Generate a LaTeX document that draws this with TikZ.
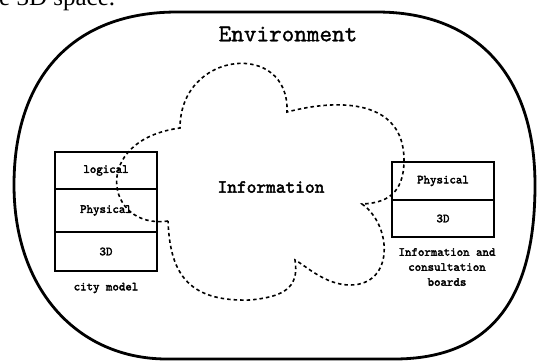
\documentclass[tikz,border=0pt]{standalone}
\usepackage{fontspec}
\setmainfont{Liberation Serif}
\newfontfamily\monor[FakeBold=1.2]{lmmono10-regular.otf}
\newfontfamily\monob[FakeBold=2.5]{lmmono10-regular.otf}
\tikzset{
  layer/.style={draw, line width=1.5pt, minimum width=102pt, inner sep=0pt, outer sep=0pt,
    font=\monob\fontsize{12.3}{14}\selectfont},
  caption/.style={inner sep=0pt, align=center, font=\monob\fontsize{12.3}{15}\selectfont},
  envline/.style={line width=2.8pt},
  cloudline/.style={line width=1.6pt, dash pattern=on 3.5pt off 3pt}
}
\begin{document}
\begin{tikzpicture}[x=1pt,y=-1pt]
\useasboundingbox (0,0) rectangle (537,360);
\clip (0,0) rectangle (537,360);
% cut-off line of text above
\node[anchor=base west, inner sep=0pt, font=\fontsize{25}{30}\selectfont] (cut) at (-1,5) {e 3D space.};
% environment outline
\draw[envline] (14,185) .. controls (14,76) and (74,12) .. (177,12)
  -- (377,12) .. controls (477,12) and (535,76) .. (535,185)
  .. controls (535,295) and (494,359) .. (394,359)
  -- (167,359) .. controls (78,359) and (14,290) .. cycle;
\node[inner sep=0pt, font=\monor\fontsize{24}{26}\selectfont] (env) at (288,34) {Environment};
% city model
\node[layer, minimum height=37pt, anchor=north west] (logical) at (55,152) {logical};
\node[layer, minimum height=43pt, anchor=north] (lphys) at (logical.south) {Physical};
\node[layer, minimum height=39pt, anchor=north] (l3d) at (lphys.south) {3D};
\node[caption] (city) at (106,288) {city model};
% boards
\node[layer, minimum height=38pt, anchor=north west] (rphys) at (392,162) {Physical};
\node[layer, minimum height=37pt, anchor=north] (r3d) at (rphys.south) {3D};
\node[caption] (boards) at (447,267) {Information and\\consultation\\boards};
% information cloud
\draw[cloudline] (168,221) .. controls (105,230) and (90,140) .. (180,128)
  .. controls (180,50) and (290,40) .. (287,112)
  .. controls (340,98) and (404,100) .. (404,160)
  .. controls (404,195) and (385,203) .. (362,204)
  .. controls (392,225) and (395,285) .. (350,285)
  .. controls (325,285) and (305,265) .. (295,260)
  .. controls (300,290) and (280,297) .. (250,300)
  .. controls (185,302) and (170,270) .. (168,221);
\node[inner sep=0pt, font=\monob\fontsize{18.5}{20}\selectfont] (info) at (271,187) {Information};
\end{tikzpicture}
\end{document}
